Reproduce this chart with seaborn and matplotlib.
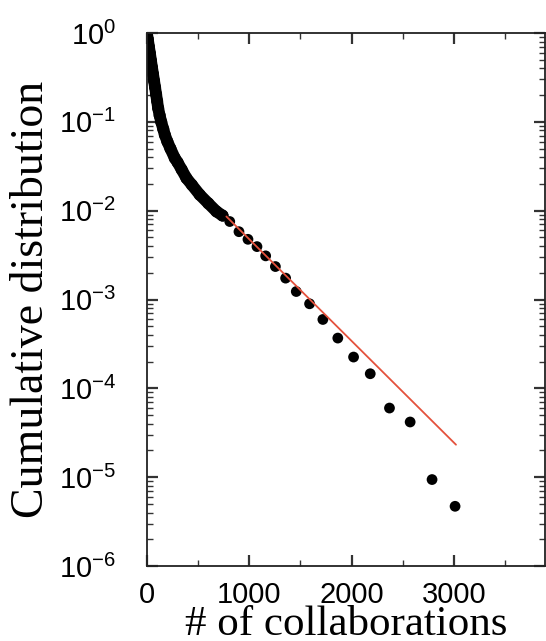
import numpy as np
import pandas as pd
import matplotlib
matplotlib.use("Agg")
import matplotlib.pyplot as plt
import matplotlib.ticker as mticker
import seaborn as sns

### ---------------- DATA ---------------- ###
# dense head of the cumulative distribution (points overlap into a thick curve)
dense_x = [0, 10, 20, 30, 40, 50, 60, 70, 80, 90, 100, 110, 125, 140, 160, 176,
           200, 230, 273, 300, 340, 387, 440, 517, 600, 680, 740]
dense_y = [1.0, 0.84, 0.70, 0.59, 0.49, 0.41, 0.345, 0.29, 0.245, 0.205, 0.172,
           0.143, 0.118, 0.100, 0.083, 0.0712, 0.060, 0.050, 0.039, 0.035, 0.029,
           0.0232, 0.0195, 0.0151, 0.0121, 0.0098, 0.0088]

# binned tail points
tail_x = [810, 900, 988, 1076, 1161, 1256, 1356, 1460, 1590, 1720, 1866, 2020,
          2183, 2371, 2573, 2787, 3012]
tail_y = [7.55e-3, 5.8e-3, 4.76e-3, 3.94e-3, 3.1e-3, 2.35e-3, 1.74e-3, 1.23e-3,
          8.95e-4, 5.96e-4, 3.68e-4, 2.25e-4, 1.46e-4, 6.0e-5, 4.18e-5, 9.4e-6, 4.7e-6]

# exponential fit (straight line on semilog axes)
fit_x = [777, 3021]
fit_y = [8.6e-3, 2.32e-5]

x_label = "# of collaborations"
y_label = "Cumulative distribution"

### ---------------- PLOT ---------------- ###
sns.set_style("ticks")
plt.rcParams["font.family"] = ["Liberation Sans", "DejaVu Sans"]
plt.rcParams["mathtext.default"] = "regular"
plt.rcParams["text.color"] = "black"
plt.rcParams["xtick.labelcolor"] = "black"
plt.rcParams["ytick.labelcolor"] = "black"

fig = plt.figure(figsize=(5.46, 6.41), dpi=100)
ax = fig.add_axes([0.269, 0.117, 0.729, 0.8315])

df_dense = pd.DataFrame({"x": dense_x, "y": dense_y})
df_tail = pd.DataFrame({"x": tail_x, "y": tail_y})
df_fit = pd.DataFrame({"x": fit_x, "y": fit_y})

sns.lineplot(data=df_dense, x="x", y="y", ax=ax, color="black", lw=8.5,
             solid_capstyle="round", solid_joinstyle="round", sort=False)
sns.scatterplot(data=df_dense, x="x", y="y", ax=ax, color="black", s=75,
                edgecolor="none")
sns.scatterplot(data=df_tail, x="x", y="y", ax=ax, color="black", s=60,
                edgecolor="none")
sns.lineplot(data=df_fit, x="x", y="y", ax=ax, color="#e4513c", lw=1.3)

ax.set_yscale("log")
ax.set_ylim(1e-6, 1)
ax.set_xlim(0, 3890)

ax.xaxis.set_major_locator(mticker.MultipleLocator(1000))
ax.xaxis.set_minor_locator(mticker.MultipleLocator(500))
ax.yaxis.set_major_locator(mticker.LogLocator(base=10, numticks=10))
ax.yaxis.set_minor_locator(mticker.LogLocator(base=10, subs=np.arange(2, 10), numticks=10))
ax.yaxis.set_minor_formatter(mticker.NullFormatter())

for s in ax.spines.values():
    s.set_linewidth(1.3)
    s.set_color("#222222")

ax.tick_params(which="both", direction="in", top=True, right=True, color="#333333")
ax.tick_params(which="major", length=8, width=1.6)
ax.tick_params(which="minor", length=4, width=1.0)
ax.tick_params(axis="x", which="major", labelsize=21, pad=11)
ax.tick_params(axis="y", which="major", labelsize=21, pad=22)

ax.set_xlabel(x_label, family="Liberation Serif", fontsize=31, labelpad=-3,
              color="black")
ax.set_ylabel(y_label, family="Liberation Serif", fontsize=33, labelpad=4,
              color="black")

fig.savefig("out.png", dpi=100)
